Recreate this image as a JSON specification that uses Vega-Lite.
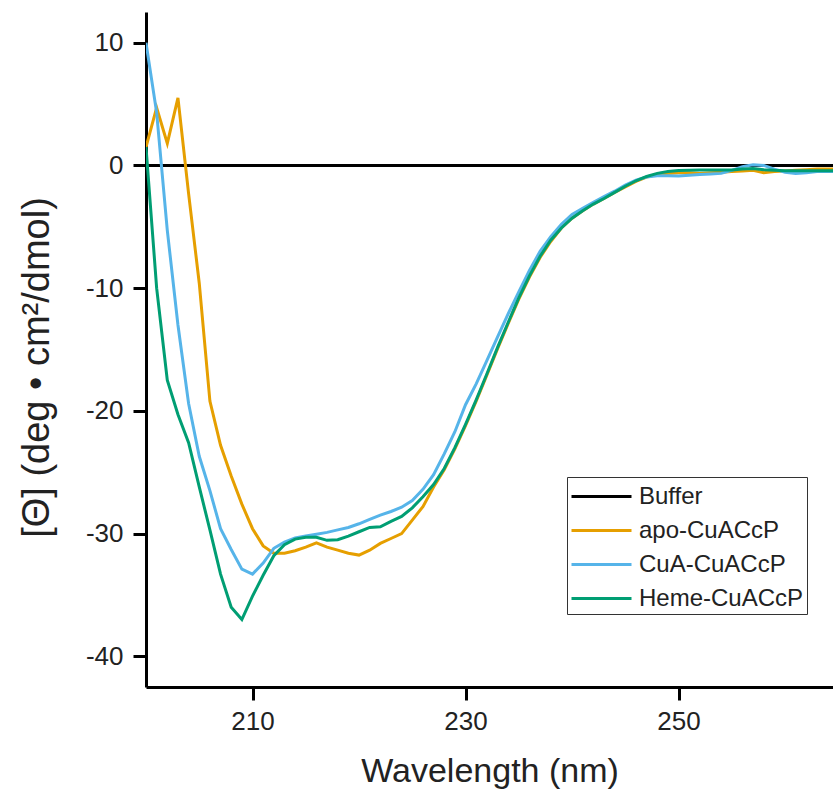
{
  "$schema": "https://vega.github.io/schema/vega-lite/v6.json",
  "autosize": {"type": "none"},
  "padding": {"left": 146, "top": 12, "right": 0, "bottom": 105},
  "width": 687,
  "height": 675,
  "background": "white",
  "config": {
    "view": {"stroke": null},
    "font": "Liberation Sans",
    "axis": {"grid": false, "domainColor": "black", "domainWidth": 3, "tickColor": "black", "tickWidth": 3, "tickSize": 13, "labelFont": "Liberation Sans", "labelColor": "#222", "titleFont": "Liberation Sans", "titleColor": "#222", "titleFontWeight": "normal", "labelExpr": "toString(datum.value)"}
  },
  "datasets": {
    "cd": [
      {"series": "Buffer", "nm": 200, "theta": 0},
      {"series": "Buffer", "nm": 265, "theta": 0},
      {"series": "apo-CuACcP", "nm": 200, "theta": 1.5},
      {"series": "apo-CuACcP", "nm": 201, "theta": 4.7},
      {"series": "apo-CuACcP", "nm": 202, "theta": 1.8},
      {"series": "apo-CuACcP", "nm": 203, "theta": 5.5},
      {"series": "apo-CuACcP", "nm": 204, "theta": -2.3},
      {"series": "apo-CuACcP", "nm": 205, "theta": -9.6},
      {"series": "apo-CuACcP", "nm": 206, "theta": -19.2},
      {"series": "apo-CuACcP", "nm": 207, "theta": -22.8},
      {"series": "apo-CuACcP", "nm": 208, "theta": -25.3},
      {"series": "apo-CuACcP", "nm": 209, "theta": -27.6},
      {"series": "apo-CuACcP", "nm": 210, "theta": -29.6},
      {"series": "apo-CuACcP", "nm": 211, "theta": -31.0},
      {"series": "apo-CuACcP", "nm": 212, "theta": -31.6},
      {"series": "apo-CuACcP", "nm": 213, "theta": -31.6},
      {"series": "apo-CuACcP", "nm": 214, "theta": -31.4},
      {"series": "apo-CuACcP", "nm": 215, "theta": -31.1},
      {"series": "apo-CuACcP", "nm": 216, "theta": -30.75},
      {"series": "apo-CuACcP", "nm": 217, "theta": -31.1},
      {"series": "apo-CuACcP", "nm": 218, "theta": -31.35},
      {"series": "apo-CuACcP", "nm": 219, "theta": -31.6},
      {"series": "apo-CuACcP", "nm": 220, "theta": -31.75},
      {"series": "apo-CuACcP", "nm": 221, "theta": -31.35},
      {"series": "apo-CuACcP", "nm": 222, "theta": -30.8},
      {"series": "apo-CuACcP", "nm": 223, "theta": -30.4},
      {"series": "apo-CuACcP", "nm": 224, "theta": -30.0},
      {"series": "apo-CuACcP", "nm": 225, "theta": -28.9},
      {"series": "apo-CuACcP", "nm": 226, "theta": -27.8},
      {"series": "apo-CuACcP", "nm": 227, "theta": -26.2},
      {"series": "apo-CuACcP", "nm": 228, "theta": -24.8},
      {"series": "apo-CuACcP", "nm": 229, "theta": -23.1},
      {"series": "apo-CuACcP", "nm": 230, "theta": -21.2},
      {"series": "apo-CuACcP", "nm": 231, "theta": -19.2},
      {"series": "apo-CuACcP", "nm": 232, "theta": -17.1},
      {"series": "apo-CuACcP", "nm": 233, "theta": -14.95},
      {"series": "apo-CuACcP", "nm": 234, "theta": -12.9},
      {"series": "apo-CuACcP", "nm": 235, "theta": -10.9},
      {"series": "apo-CuACcP", "nm": 236, "theta": -9.1},
      {"series": "apo-CuACcP", "nm": 237, "theta": -7.5},
      {"series": "apo-CuACcP", "nm": 238, "theta": -6.2},
      {"series": "apo-CuACcP", "nm": 239, "theta": -5.1},
      {"series": "apo-CuACcP", "nm": 240, "theta": -4.3},
      {"series": "apo-CuACcP", "nm": 241, "theta": -3.7},
      {"series": "apo-CuACcP", "nm": 242, "theta": -3.15},
      {"series": "apo-CuACcP", "nm": 243, "theta": -2.7},
      {"series": "apo-CuACcP", "nm": 244, "theta": -2.2},
      {"series": "apo-CuACcP", "nm": 245, "theta": -1.75},
      {"series": "apo-CuACcP", "nm": 246, "theta": -1.3},
      {"series": "apo-CuACcP", "nm": 247, "theta": -0.95},
      {"series": "apo-CuACcP", "nm": 248, "theta": -0.75},
      {"series": "apo-CuACcP", "nm": 249, "theta": -0.65},
      {"series": "apo-CuACcP", "nm": 250, "theta": -0.6},
      {"series": "apo-CuACcP", "nm": 251, "theta": -0.6},
      {"series": "apo-CuACcP", "nm": 252, "theta": -0.65},
      {"series": "apo-CuACcP", "nm": 253, "theta": -0.6},
      {"series": "apo-CuACcP", "nm": 254, "theta": -0.55},
      {"series": "apo-CuACcP", "nm": 255, "theta": -0.5},
      {"series": "apo-CuACcP", "nm": 256, "theta": -0.45},
      {"series": "apo-CuACcP", "nm": 257, "theta": -0.4},
      {"series": "apo-CuACcP", "nm": 258, "theta": -0.6},
      {"series": "apo-CuACcP", "nm": 259, "theta": -0.5},
      {"series": "apo-CuACcP", "nm": 260, "theta": -0.45},
      {"series": "apo-CuACcP", "nm": 261, "theta": -0.4},
      {"series": "apo-CuACcP", "nm": 262, "theta": -0.35},
      {"series": "apo-CuACcP", "nm": 263, "theta": -0.3},
      {"series": "apo-CuACcP", "nm": 264, "theta": -0.3},
      {"series": "apo-CuACcP", "nm": 265, "theta": -0.3},
      {"series": "CuA-CuACcP", "nm": 200, "theta": 10.0},
      {"series": "CuA-CuACcP", "nm": 201, "theta": 4.3},
      {"series": "CuA-CuACcP", "nm": 202, "theta": -5.3},
      {"series": "CuA-CuACcP", "nm": 203, "theta": -13.0},
      {"series": "CuA-CuACcP", "nm": 204, "theta": -19.4},
      {"series": "CuA-CuACcP", "nm": 205, "theta": -23.7},
      {"series": "CuA-CuACcP", "nm": 206, "theta": -26.5},
      {"series": "CuA-CuACcP", "nm": 207, "theta": -29.6},
      {"series": "CuA-CuACcP", "nm": 208, "theta": -31.3},
      {"series": "CuA-CuACcP", "nm": 209, "theta": -32.9},
      {"series": "CuA-CuACcP", "nm": 210, "theta": -33.3},
      {"series": "CuA-CuACcP", "nm": 211, "theta": -32.4},
      {"series": "CuA-CuACcP", "nm": 212, "theta": -31.2},
      {"series": "CuA-CuACcP", "nm": 213, "theta": -30.7},
      {"series": "CuA-CuACcP", "nm": 214, "theta": -30.35},
      {"series": "CuA-CuACcP", "nm": 215, "theta": -30.2},
      {"series": "CuA-CuACcP", "nm": 216, "theta": -30.05},
      {"series": "CuA-CuACcP", "nm": 217, "theta": -29.9},
      {"series": "CuA-CuACcP", "nm": 218, "theta": -29.7},
      {"series": "CuA-CuACcP", "nm": 219, "theta": -29.5},
      {"series": "CuA-CuACcP", "nm": 220, "theta": -29.2},
      {"series": "CuA-CuACcP", "nm": 221, "theta": -28.85},
      {"series": "CuA-CuACcP", "nm": 222, "theta": -28.5},
      {"series": "CuA-CuACcP", "nm": 223, "theta": -28.2},
      {"series": "CuA-CuACcP", "nm": 224, "theta": -27.85},
      {"series": "CuA-CuACcP", "nm": 225, "theta": -27.3},
      {"series": "CuA-CuACcP", "nm": 226, "theta": -26.4},
      {"series": "CuA-CuACcP", "nm": 227, "theta": -25.2},
      {"series": "CuA-CuACcP", "nm": 228, "theta": -23.5},
      {"series": "CuA-CuACcP", "nm": 229, "theta": -21.7},
      {"series": "CuA-CuACcP", "nm": 230, "theta": -19.5},
      {"series": "CuA-CuACcP", "nm": 231, "theta": -17.8},
      {"series": "CuA-CuACcP", "nm": 232, "theta": -15.9},
      {"series": "CuA-CuACcP", "nm": 233, "theta": -14.0},
      {"series": "CuA-CuACcP", "nm": 234, "theta": -12.1},
      {"series": "CuA-CuACcP", "nm": 235, "theta": -10.3},
      {"series": "CuA-CuACcP", "nm": 236, "theta": -8.55},
      {"series": "CuA-CuACcP", "nm": 237, "theta": -7.0},
      {"series": "CuA-CuACcP", "nm": 238, "theta": -5.8},
      {"series": "CuA-CuACcP", "nm": 239, "theta": -4.8},
      {"series": "CuA-CuACcP", "nm": 240, "theta": -4.0},
      {"series": "CuA-CuACcP", "nm": 241, "theta": -3.5},
      {"series": "CuA-CuACcP", "nm": 242, "theta": -3.0},
      {"series": "CuA-CuACcP", "nm": 243, "theta": -2.55},
      {"series": "CuA-CuACcP", "nm": 244, "theta": -2.1},
      {"series": "CuA-CuACcP", "nm": 245, "theta": -1.6},
      {"series": "CuA-CuACcP", "nm": 246, "theta": -1.2},
      {"series": "CuA-CuACcP", "nm": 247, "theta": -0.95},
      {"series": "CuA-CuACcP", "nm": 248, "theta": -0.85},
      {"series": "CuA-CuACcP", "nm": 249, "theta": -0.85},
      {"series": "CuA-CuACcP", "nm": 250, "theta": -0.87},
      {"series": "CuA-CuACcP", "nm": 251, "theta": -0.8},
      {"series": "CuA-CuACcP", "nm": 252, "theta": -0.75},
      {"series": "CuA-CuACcP", "nm": 253, "theta": -0.7},
      {"series": "CuA-CuACcP", "nm": 254, "theta": -0.65},
      {"series": "CuA-CuACcP", "nm": 255, "theta": -0.4},
      {"series": "CuA-CuACcP", "nm": 256, "theta": -0.1},
      {"series": "CuA-CuACcP", "nm": 257, "theta": 0.05},
      {"series": "CuA-CuACcP", "nm": 258, "theta": 0.0},
      {"series": "CuA-CuACcP", "nm": 259, "theta": -0.3},
      {"series": "CuA-CuACcP", "nm": 260, "theta": -0.55},
      {"series": "CuA-CuACcP", "nm": 261, "theta": -0.65},
      {"series": "CuA-CuACcP", "nm": 262, "theta": -0.6},
      {"series": "CuA-CuACcP", "nm": 263, "theta": -0.5},
      {"series": "CuA-CuACcP", "nm": 264, "theta": -0.5},
      {"series": "CuA-CuACcP", "nm": 265, "theta": -0.5},
      {"series": "Heme-CuACcP", "nm": 200, "theta": 1.5},
      {"series": "Heme-CuACcP", "nm": 201, "theta": -10.0},
      {"series": "Heme-CuACcP", "nm": 202, "theta": -17.5},
      {"series": "Heme-CuACcP", "nm": 203, "theta": -20.3},
      {"series": "Heme-CuACcP", "nm": 204, "theta": -22.6},
      {"series": "Heme-CuACcP", "nm": 205, "theta": -26.2},
      {"series": "Heme-CuACcP", "nm": 206, "theta": -29.7},
      {"series": "Heme-CuACcP", "nm": 207, "theta": -33.3},
      {"series": "Heme-CuACcP", "nm": 208, "theta": -36.0},
      {"series": "Heme-CuACcP", "nm": 209, "theta": -37.0},
      {"series": "Heme-CuACcP", "nm": 210, "theta": -35.1},
      {"series": "Heme-CuACcP", "nm": 211, "theta": -33.4},
      {"series": "Heme-CuACcP", "nm": 212, "theta": -31.8},
      {"series": "Heme-CuACcP", "nm": 213, "theta": -30.9},
      {"series": "Heme-CuACcP", "nm": 214, "theta": -30.45},
      {"series": "Heme-CuACcP", "nm": 215, "theta": -30.3},
      {"series": "Heme-CuACcP", "nm": 216, "theta": -30.3},
      {"series": "Heme-CuACcP", "nm": 217, "theta": -30.55},
      {"series": "Heme-CuACcP", "nm": 218, "theta": -30.5},
      {"series": "Heme-CuACcP", "nm": 219, "theta": -30.2},
      {"series": "Heme-CuACcP", "nm": 220, "theta": -29.85},
      {"series": "Heme-CuACcP", "nm": 221, "theta": -29.5},
      {"series": "Heme-CuACcP", "nm": 222, "theta": -29.45},
      {"series": "Heme-CuACcP", "nm": 223, "theta": -29.0},
      {"series": "Heme-CuACcP", "nm": 224, "theta": -28.6},
      {"series": "Heme-CuACcP", "nm": 225, "theta": -27.9},
      {"series": "Heme-CuACcP", "nm": 226, "theta": -27.0},
      {"series": "Heme-CuACcP", "nm": 227, "theta": -26.0},
      {"series": "Heme-CuACcP", "nm": 228, "theta": -24.7},
      {"series": "Heme-CuACcP", "nm": 229, "theta": -23.0},
      {"series": "Heme-CuACcP", "nm": 230, "theta": -21.1},
      {"series": "Heme-CuACcP", "nm": 231, "theta": -19.1},
      {"series": "Heme-CuACcP", "nm": 232, "theta": -17.0},
      {"series": "Heme-CuACcP", "nm": 233, "theta": -14.85},
      {"series": "Heme-CuACcP", "nm": 234, "theta": -12.8},
      {"series": "Heme-CuACcP", "nm": 235, "theta": -10.8},
      {"series": "Heme-CuACcP", "nm": 236, "theta": -9.0},
      {"series": "Heme-CuACcP", "nm": 237, "theta": -7.4},
      {"series": "Heme-CuACcP", "nm": 238, "theta": -6.1},
      {"series": "Heme-CuACcP", "nm": 239, "theta": -5.1},
      {"series": "Heme-CuACcP", "nm": 240, "theta": -4.3},
      {"series": "Heme-CuACcP", "nm": 241, "theta": -3.7},
      {"series": "Heme-CuACcP", "nm": 242, "theta": -3.15},
      {"series": "Heme-CuACcP", "nm": 243, "theta": -2.7},
      {"series": "Heme-CuACcP", "nm": 244, "theta": -2.2},
      {"series": "Heme-CuACcP", "nm": 245, "theta": -1.7},
      {"series": "Heme-CuACcP", "nm": 246, "theta": -1.25},
      {"series": "Heme-CuACcP", "nm": 247, "theta": -0.9},
      {"series": "Heme-CuACcP", "nm": 248, "theta": -0.65},
      {"series": "Heme-CuACcP", "nm": 249, "theta": -0.5},
      {"series": "Heme-CuACcP", "nm": 250, "theta": -0.42},
      {"series": "Heme-CuACcP", "nm": 251, "theta": -0.4},
      {"series": "Heme-CuACcP", "nm": 252, "theta": -0.38},
      {"series": "Heme-CuACcP", "nm": 253, "theta": -0.38},
      {"series": "Heme-CuACcP", "nm": 254, "theta": -0.38},
      {"series": "Heme-CuACcP", "nm": 255, "theta": -0.38},
      {"series": "Heme-CuACcP", "nm": 256, "theta": -0.3},
      {"series": "Heme-CuACcP", "nm": 257, "theta": -0.25},
      {"series": "Heme-CuACcP", "nm": 258, "theta": -0.35},
      {"series": "Heme-CuACcP", "nm": 259, "theta": -0.4},
      {"series": "Heme-CuACcP", "nm": 260, "theta": -0.43},
      {"series": "Heme-CuACcP", "nm": 261, "theta": -0.43},
      {"series": "Heme-CuACcP", "nm": 262, "theta": -0.43},
      {"series": "Heme-CuACcP", "nm": 263, "theta": -0.43},
      {"series": "Heme-CuACcP", "nm": 264, "theta": -0.43},
      {"series": "Heme-CuACcP", "nm": 265, "theta": -0.43}
    ]
  },
  "data": {"name": "cd"},
  "mark": {"type": "line", "strokeWidth": 3, "clip": true, "interpolate": "linear"},
  "encoding": {
    "x": {
      "field": "nm", "type": "quantitative",
      "scale": {"domain": [200, 264.5], "nice": false, "zero": false},
      "axis": {"values": [210, 230, 250], "title": "Wavelength (nm)", "titleFontSize": 34, "titlePadding": 20, "labelFontSize": 26, "labelPadding": 8}
    },
    "y": {
      "field": "theta", "type": "quantitative",
      "scale": {"domain": [-42.5, 12.5], "nice": false, "zero": false},
      "axis": {"values": [-40, -30, -20, -10, 0, 10], "title": "[Θ] (deg • cm²/dmol)", "titleFontSize": 38, "titlePadding": 29, "titleY": 355, "labelFontSize": 26, "labelPadding": 10}
    },
    "color": {
      "field": "series", "type": "nominal",
      "scale": {"domain": ["Buffer", "apo-CuACcP", "CuA-CuACcP", "Heme-CuACcP"], "range": ["#000000", "#E69F00", "#56B4E9", "#009E73"]},
      "legend": {"title": null, "orient": "none", "legendX": 421, "legendY": 465, "strokeColor": "#333", "fillColor": "white", "padding": 3, "symbolType": "M-1,0H3", "symbolSize": 900, "symbolStrokeWidth": 3, "labelFontSize": 24, "labelFont": "Liberation Sans", "labelColor": "#222", "labelLimit": 300, "rowPadding": 5, "labelOffset": 36}
    }
  }
}
